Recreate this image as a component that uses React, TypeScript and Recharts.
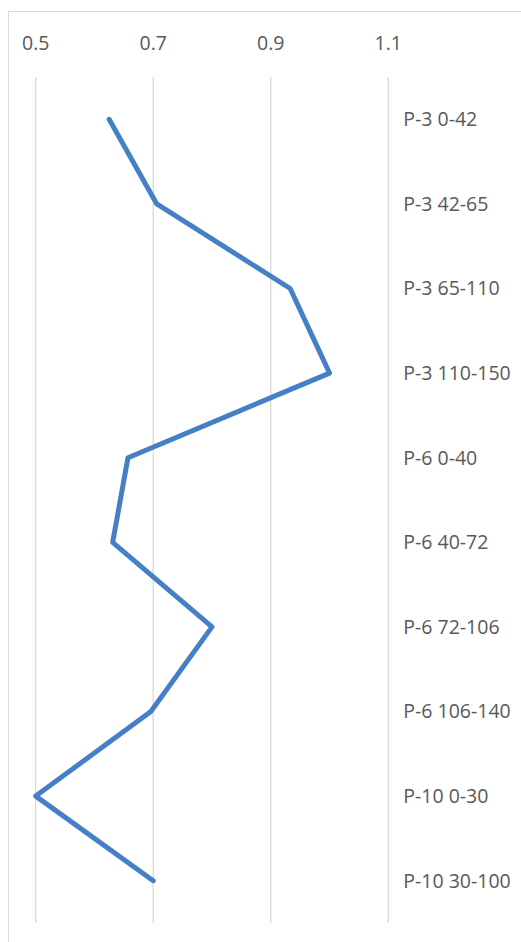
import { LineChart, Line, XAxis, YAxis, CartesianGrid } from "recharts";

// Sample depths (profile + depth range in cm)
const samples = [
  "P-3 0-42",
  "P-3 42-65",
  "P-3 65-110",
  "P-3 110-150",
  "P-6 0-40",
  "P-6 40-72",
  "P-6 72-106",
  "P-6 106-140",
  "P-10 0-30",
  "P-10 30-100",
];

const values = [0.625, 0.706, 0.933, 1.0, 0.657, 0.631, 0.8, 0.696, 0.5, 0.7];

const xTicks = [0.5, 0.7, 0.9, 1.1];

const data = samples.map((name, i) => ({ name, value: values[i] }));

const font = "'Open Sans', sans-serif";

const App = () => {
  return (
    <div
      style={{
        position: "fixed",
        inset: 0,
        overflow: "hidden",
        background: "#fff",
      }}
    >
      <div
        style={{
          position: "absolute",
          left: 8,
          top: 11,
          width: 600,
          height: 1000,
          border: "1px solid #d9d9d9",
        }}
      />
      <div style={{ position: "absolute", left: 0, top: 0 }}>
        <LineChart
          width={521}
          height={942}
          data={data}
          layout="vertical"
          margin={{ top: 37, right: 12.7, bottom: 19, left: 35.7 }}
        >
          <CartesianGrid horizontal={false} stroke="#d9d9d9" strokeWidth={1.3} />
          <XAxis
            type="number"
            orientation="top"
            domain={[0.5, 1.1]}
            ticks={xTicks}
            height={40}
            axisLine={false}
            tickLine={false}
            tickMargin={21}
            tick={{ fill: "#595959", fontSize: 19.5, fontFamily: font }}
          />
          <YAxis
            type="category"
            dataKey="name"
            orientation="right"
            width={120}
            padding={{ top: 42.3, bottom: 42.3 }}
            axisLine={false}
            tickLine={false}
            tickMargin={9}
            interval={0}
            tick={{ fill: "#595959", fontSize: 19.5, fontFamily: font }}
          />
          <Line
            dataKey="value"
            type="linear"
            stroke="#4580c6"
            strokeWidth={5}
            strokeLinejoin="round"
            strokeLinecap="round"
            dot={false}
            isAnimationActive={false}
          />
        </LineChart>
      </div>
    </div>
  );
};

export default App;
